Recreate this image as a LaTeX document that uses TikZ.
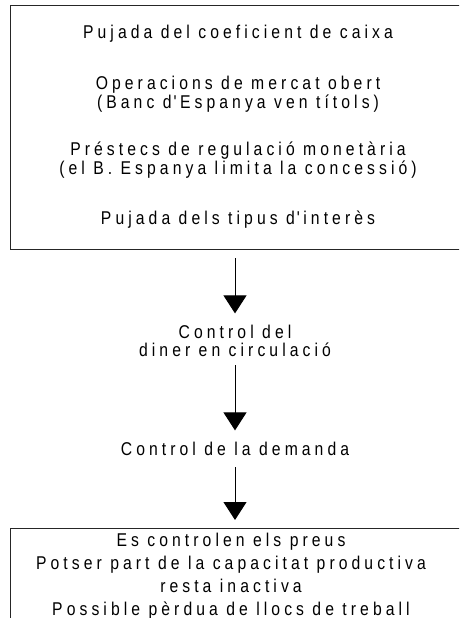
\documentclass[tikz,border=0pt]{standalone}
\usepackage{fontspec}
\setmainfont{Liberation Sans}[FakeStretch=0.85,LetterSpace=22]
\usetikzlibrary{arrows.meta}
\newcommand{\apos}{\kern2pt\textquotesingle\kern3pt}

\begin{document}
\begin{tikzpicture}[x=1pt, y=-1pt,
  txt/.style = {anchor=base, inner sep=0pt, font=\fontsize{18.5}{20}\selectfont},
  box/.style = {draw=black!85, line width=1.3pt, anchor=north west, inner sep=0pt},
  flow/.style = {-{Triangle[width=23pt,length=18pt]}, line width=1pt}]
        \clip (0,0) rectangle (459,618);
        \node[box, minimum width=470pt, minimum height=244pt] (causes) at (10,5) {};
        \node[txt] (coef) at (238,39) {Pujada del coeficient de caixa};
        \node[txt] (oper) at (238,89) {Operacions de mercat obert};
        \node[txt] (banc) at (238,108) {(Banc d\apos Espanya ven títols)};
        \node[txt] (prest) at (238,155) {Préstecs de regulació monetària};
        \node[txt] (limit) at (238,174) {(el B. Espanya limita la concessió)};
        \node[txt] (tipus) at (238,224) {Pujada dels tipus d\apos interès};
        \node[txt] (ctrl) at (235,338) {Control del};
        \node[txt] (diner) at (235,356) {diner en circulació};
        \node[txt] (demanda) at (235,455) {Control de la demanda};
        \node[box, minimum width=470pt, minimum height=120pt] (effects) at (10,528) {};
        \node[txt] (preus) at (231,546) {Es controlen els preus};
        \node[txt] (capac) at (231,569) {Potser part de la capacitat productiva};
        \node[txt] (resta) at (231,592) {resta inactiva};
        \node[txt] (llocs) at (231,615) {Possible pèrdua de llocs de treball};
        \draw[flow, shorten <=8pt, shorten >=11pt] (causes.south -| ctrl.north) -- (ctrl.north);
        \draw[flow, shorten <=9pt, shorten >=11pt] (diner.south) -- (demanda.north);
        \draw[flow, shorten <=12pt, shorten >=8pt] (demanda.south) -- (effects.north -| demanda.south);
    \end{tikzpicture}
\end{document}
